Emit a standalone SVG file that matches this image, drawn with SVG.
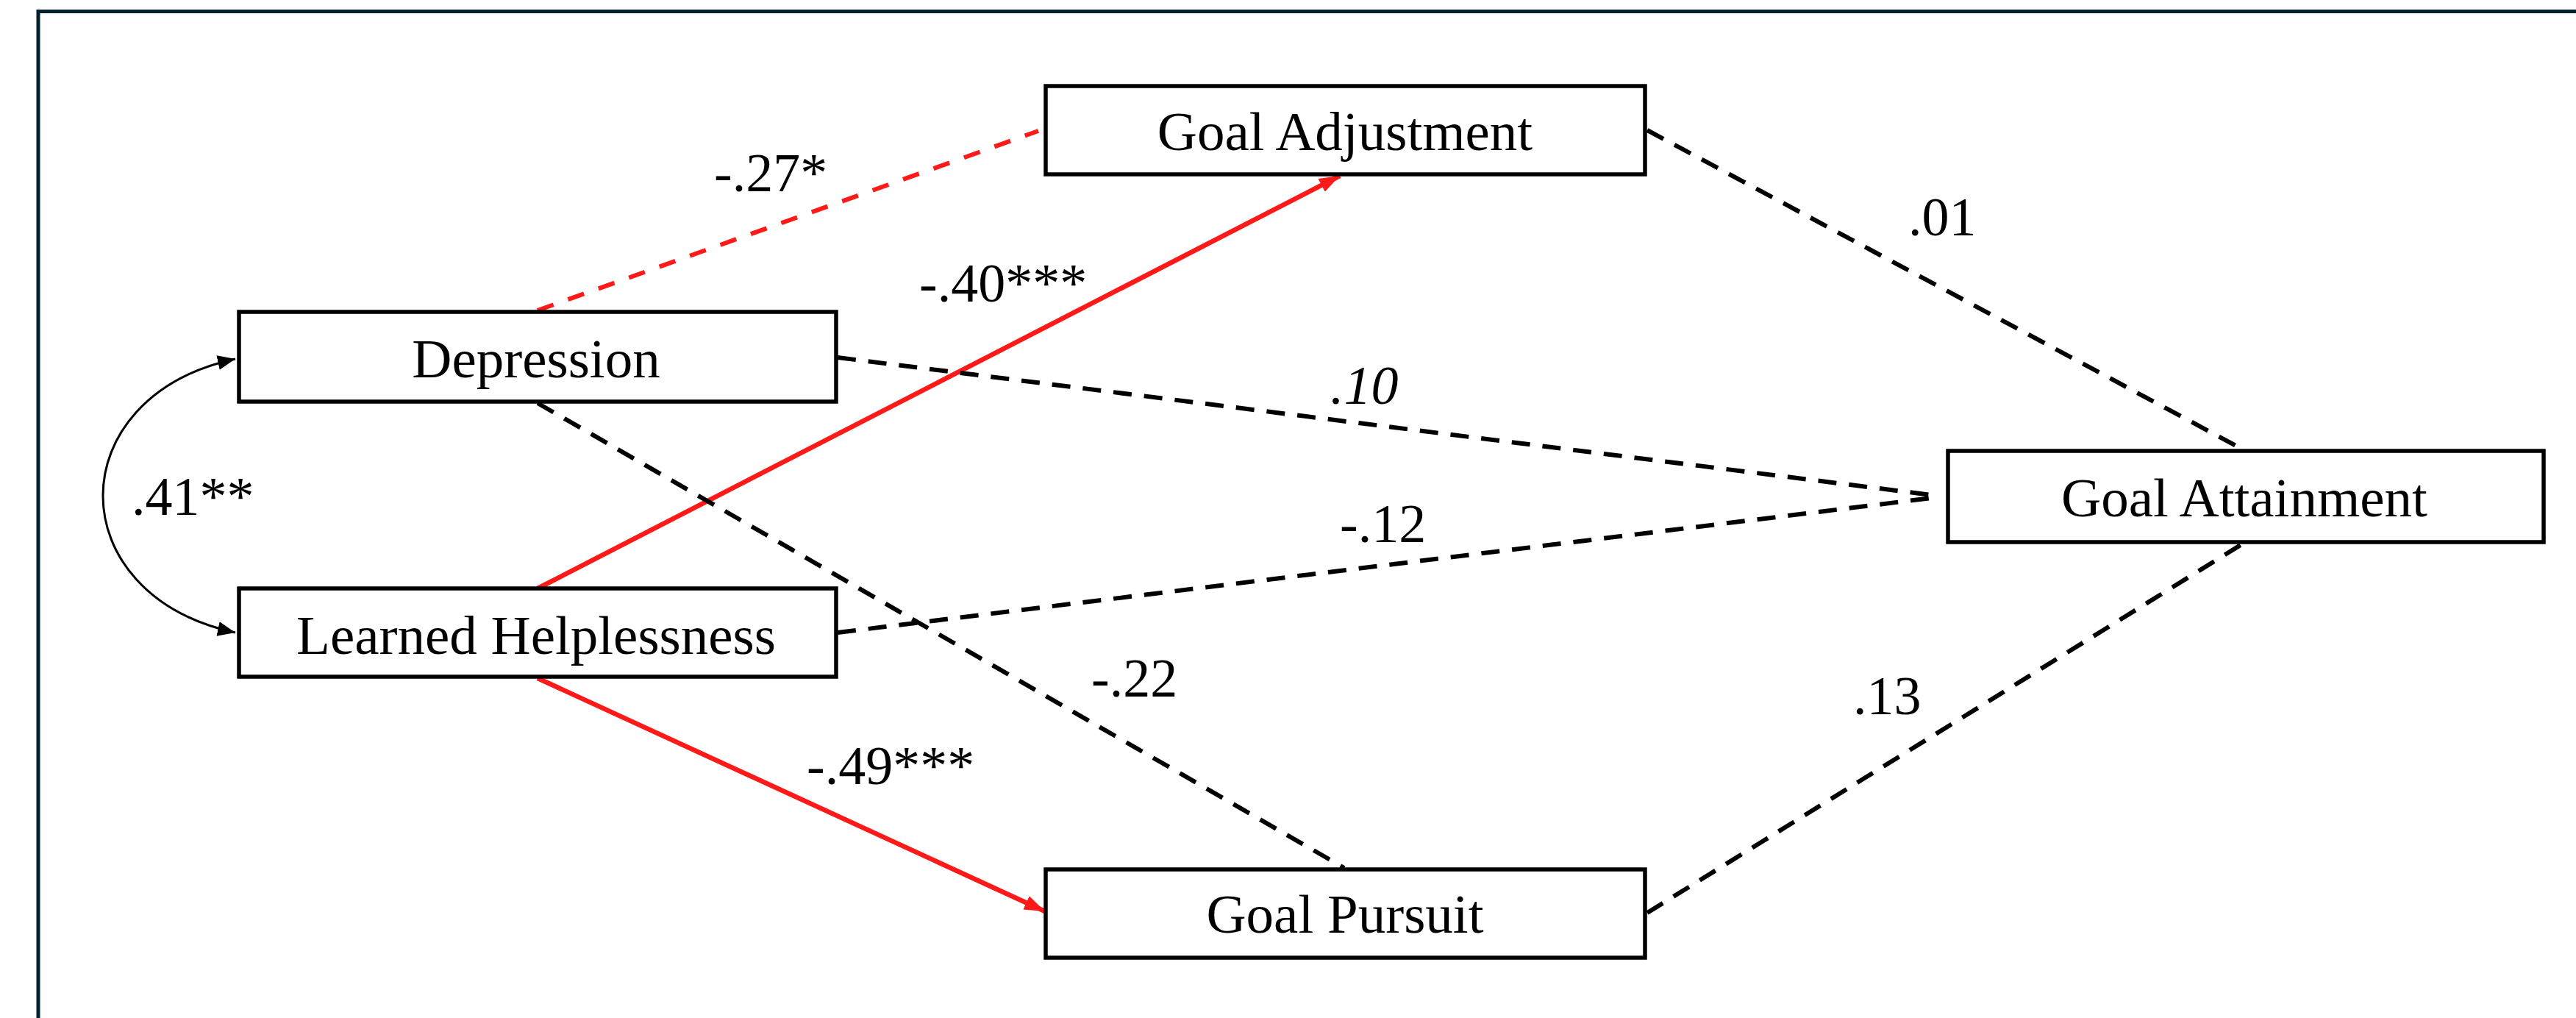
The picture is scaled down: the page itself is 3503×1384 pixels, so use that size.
<svg xmlns="http://www.w3.org/2000/svg" width="3503" height="1384" viewBox="0 0 3503 1384">
<style>
.box{fill:#fff;stroke:#000;stroke-width:5.5}
.lbl{font-family:"Liberation Serif","Times New Roman",serif;font-size:75px;fill:#000;text-anchor:middle}
.num{font-family:"Liberation Serif","Times New Roman",serif;font-size:74px;fill:#000}
.dash{fill:none;stroke:#000;stroke-width:6;stroke-dasharray:25 17}
.rdash{fill:none;stroke:#ff1a1a;stroke-width:6;stroke-dasharray:23 21}
.rsolid{fill:none;stroke:#ff1a1a;stroke-width:6.5}
.cov{fill:none;stroke:#000;stroke-width:3}
</style>
<defs>
<marker id="ar" markerUnits="userSpaceOnUse" markerWidth="30" markerHeight="24" refX="28" refY="12" orient="auto">
<path d="M0,2 L28,12 L0,22 Z" fill="#ff1a1a"/>
</marker>
<marker id="ab" markerUnits="userSpaceOnUse" markerWidth="26" markerHeight="22" refX="24" refY="11" orient="auto-start-reverse">
<path d="M0,1 L24,11 L0,21 Z" fill="#000"/>
</marker>
</defs>
<rect width="3503" height="1384" fill="#fff"/>
<g id="frame" stroke="#03202e" stroke-width="5" fill="none">
<line x1="50" y1="15.5" x2="3503" y2="15.5"/>
<line x1="52" y1="13" x2="52" y2="1384"/>
</g>
<g id="connectors">
<line class="rdash" x1="731" y1="422" x2="1412" y2="178"/>
<line class="rsolid" x1="731" y1="800" x2="1822" y2="239" marker-end="url(#ar)"/>
<line class="rsolid" x1="731" y1="922" x2="1421" y2="1239" marker-end="url(#ar)"/>
<line class="dash" x1="1139" y1="486" x2="2627" y2="673"/>
<line class="dash" x1="1139" y1="860" x2="2627" y2="677"/>
<line class="dash" x1="731" y1="548" x2="1828" y2="1180"/>
<line class="dash" x1="2240" y1="177" x2="3050" y2="611"/>
<line class="dash" x1="2240" y1="1241" x2="3050" y2="739"/>
<path class="cov" d="M320,488 C80,540 80,808 320,860" marker-start="url(#ab)" marker-end="url(#ab)"/>
</g>
<g id="goal-adjustment"><rect class="box" x="1422" y="117" width="815" height="120"/><text class="lbl" x="1829" y="204">Goal Adjustment</text></g>
<g id="depression"><rect class="box" x="325" y="424" width="812" height="122"/><text class="lbl" x="729" y="513">Depression</text></g>
<g id="learned-helplessness"><rect class="box" x="325" y="800" width="812" height="120"/><text class="lbl" x="729" y="889">Learned Helplessness</text></g>
<g id="goal-attainment"><rect class="box" x="2649" y="613" width="810" height="124"/><text class="lbl" x="3052" y="702">Goal Attainment</text></g>
<g id="goal-pursuit"><rect class="box" x="1422" y="1182" width="815" height="120"/><text class="lbl" x="1829" y="1268">Goal Pursuit</text></g>
<g id="labels">
<text class="num" x="971" y="260">-.27*</text>
<text class="num" x="1250" y="410">-.40***</text>
<text class="num" x="2595" y="320">.01</text>
<text class="num" x="1809" y="549" font-style="italic">.10</text>
<text class="num" x="1822" y="737">-.12</text>
<text class="num" x="179" y="700">.41**</text>
<text class="num" x="1484" y="947">-.22</text>
<text class="num" x="1097" y="1066">-.49***</text>
<text class="num" x="2520" y="971">.13</text>
</g>
</svg>
